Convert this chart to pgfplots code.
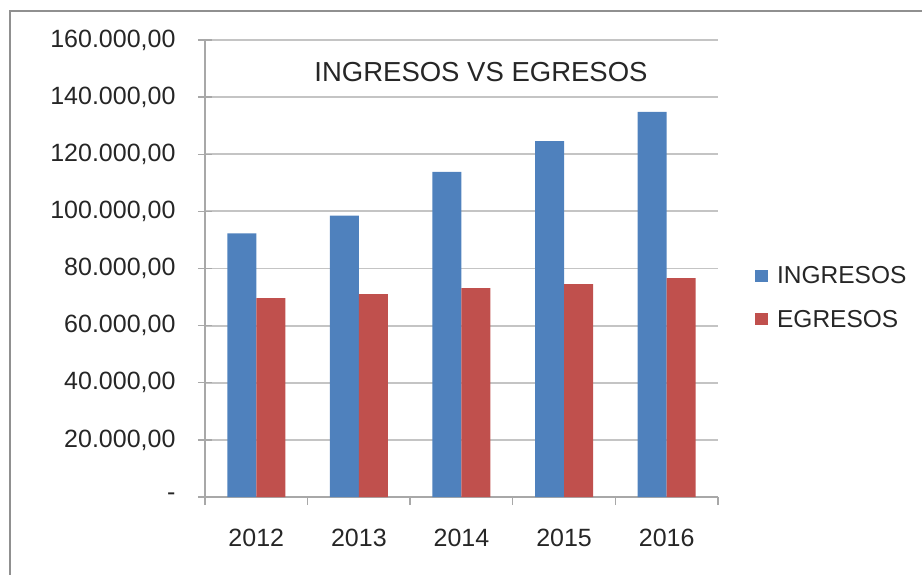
\documentclass[border=0pt]{standalone}
\usepackage{pgfplots}
\pgfplotsset{compat=1.18}
\usepackage{fontspec}
\setmainfont{Liberation Sans}
\definecolor{ingblue}{HTML}{4F81BD}
\definecolor{egred}{HTML}{C0504D}
\definecolor{gridgray}{HTML}{C4C4C4}
\definecolor{axgray}{HTML}{A8A8A8}
\definecolor{framegray}{HTML}{909090}
\begin{document}
\begin{tikzpicture}
\useasboundingbox (-205pt,-77pt) rectangle (717pt,497pt);
\draw[framegray, line width=2pt] (-195pt,-78pt) -- (-195pt,485.5pt) -- (718pt,485.5pt);
\begin{axis}[
  at={(0pt,0pt)}, anchor=south west,
  scale only axis,
  width=513pt, height=457pt,
  ybar=0pt, bar width=29pt,
  xmin=-0.5, xmax=4.5,
  ymin=0, ymax=160000,
  scaled y ticks=false,
  axis x line*=bottom, axis y line*=left,
  axis line style={draw=axgray, line width=1.6pt, -},
  xtick={0,1,2,3,4},
  xticklabels={2012,2013,2014,2015,2016},
  minor xtick={-0.5,0.5,1.5,2.5,3.5,4.5},
  major x tick style={draw=none},
  minor x tick style={draw=axgray, line width=1.4pt},
  xtick align=outside,
  minor tick length=8pt,
  ytick={0,20000,40000,60000,80000,100000,120000,140000,160000},
  yticklabels={{-},{20.000,00},{40.000,00},{60.000,00},{80.000,00},{100.000,00},{120.000,00},{140.000,00},{160.000,00}},
  ytick align=center,
  major tick length=14pt,
  major y tick style={draw=axgray, line width=1.4pt},
  ymajorgrids,
  grid style={draw=gridgray, line width=1.8pt},
  /pgf/number format/assume math mode=true,
  tick label style={font=\fontsize{25}{30}\selectfont, text=black!85},
  yticklabel style={anchor=east, xshift=-19pt},
  xticklabel style={yshift=-15pt},
  title={INGRESOS VS EGRESOS},
  title style={at={(0.538,0.917)}, anchor=center, font=\fontsize{27.5}{33}\selectfont, text=black!85},
  legend style={at={(1.072,0.4365)}, anchor=west, draw=none, fill=none,
    font=\fontsize{24.5}{29}\selectfont, text=black!85, row sep=21pt, inner sep=0pt,
    /tikz/every odd column/.append style={column sep=7pt}},
  legend cell align=left,
  legend image code/.code={\fill[#1,draw=none] (0pt,-6pt) rectangle (13pt,6pt);},
]
\addplot[fill=ingblue, draw=none] coordinates {(0,92300) (1,98500) (2,113800) (3,124600) (4,134800)};
\addplot[fill=egred, draw=none] coordinates {(0,69600) (1,71000) (2,73100) (3,74500) (4,76600)};
\legend{INGRESOS,EGRESOS}
\end{axis}
\end{tikzpicture}
\end{document}
